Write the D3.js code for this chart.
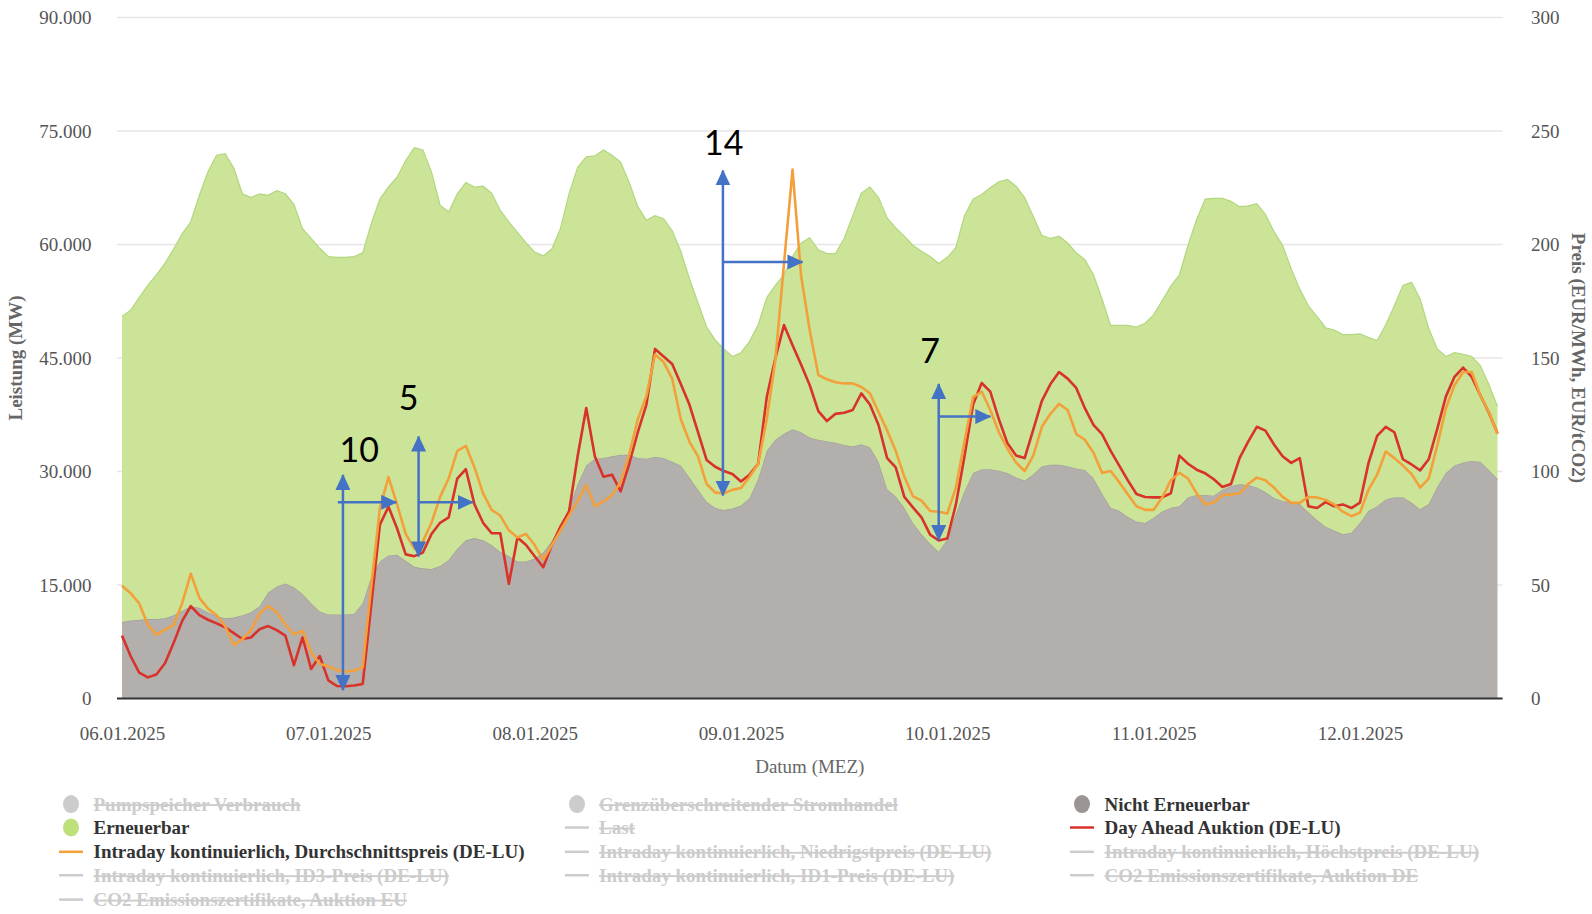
<!DOCTYPE html>
<html>
<head>
<meta charset="utf-8">
<script src="https://cdn.jsdelivr.net/npm/d3@7"></script>
<style>
  body { margin: 0; background: #fff; }
  svg text { font-family: "Liberation Serif", "Times New Roman", serif; }
</style>
</head>
<body>
<svg id="chart" width="1592" height="914"></svg>
<script>
// hourly values from 06.01.2025 00:00 to 12.01.2025 16:00 (161 points)
// Nicht Erneuerbar (MW, in thousands)
var nichtErneuerbar = [
  10.1,10.3,10.4,10.5,10.5,10.6,11.0,11.6,12.2,12.0,11.4,10.9,10.6,10.7,11.0,11.4,12.2,14.0,14.8,15.2,14.7,13.8,12.6,11.5,
  11.1,11.1,11.1,11.2,12.6,16.1,18.1,18.9,19.0,18.2,17.4,17.2,17.1,17.5,18.3,19.8,20.9,21.2,20.9,20.3,19.4,18.8,18.1,18.1,
  18.5,19.3,20.8,22.8,25.2,28.3,30.8,31.7,31.8,32.0,32.2,32.2,31.8,31.7,31.9,31.8,31.3,30.8,29.2,27.6,26.0,25.2,24.9,25.1,
  25.5,26.5,29.0,32.7,34.2,35.0,35.6,35.2,34.5,34.2,34.0,33.8,33.5,33.3,33.6,33.2,31.3,27.7,26.7,25.2,23.2,21.7,20.5,19.4,
  21.0,24.4,27.4,29.8,30.3,30.3,30.1,29.8,29.2,28.8,29.6,30.7,30.9,30.9,30.7,30.4,30.2,29.1,27.1,25.2,24.8,24.0,23.4,23.2,
  23.9,24.7,25.2,25.4,26.6,26.9,26.9,26.8,27.6,28.1,28.3,28.2,27.9,27.3,26.5,26.1,25.9,25.7,24.6,23.6,22.7,22.2,21.7,21.9,
  23.2,24.8,25.4,26.3,26.6,26.6,25.9,25.0,25.7,28.0,29.8,30.8,31.2,31.4,31.3,30.2,29.0
];
// Erneuerbar (MW, in thousands)
var erneuerbar = [
  40.4,41.0,42.6,44.1,45.5,46.9,48.4,49.8,50.8,54.5,58.2,60.9,61.4,59.4,55.7,54.8,54.5,52.5,52.3,51.5,50.6,48.3,48.2,48.0,
  47.3,47.2,47.2,47.2,46.3,46.7,47.9,48.7,49.9,52.9,55.4,55.3,52.5,47.7,46.0,46.9,47.3,46.4,46.8,46.5,45.1,44.2,43.5,42.1,
  40.5,39.2,38.6,39.3,41.5,41.9,40.8,40.0,40.7,39.8,38.7,36.0,33.2,31.5,31.9,31.6,30.5,28.3,26.3,24.7,23.1,22.2,21.3,20.1,
  20.2,20.7,20.4,20.3,20.4,21.0,22.8,25.0,26.4,25.1,24.8,25.0,27.3,30.5,33.2,34.4,34.9,35.8,35.5,35.9,36.7,37.4,37.9,38.1,
  37.3,35.2,36.4,36.2,36.3,37.2,38.2,38.8,38.5,37.4,34.1,30.5,29.9,30.2,29.5,28.5,27.8,26.9,25.7,24.1,24.5,25.3,25.7,26.4,
  26.8,27.9,29.3,30.6,33.3,36.4,39.1,39.3,38.5,37.6,36.7,36.9,37.5,36.7,35.2,33.8,30.9,28.4,27.3,26.9,26.3,26.5,26.4,26.2,
  25.0,22.9,21.9,23.1,25.3,28.0,29.1,27.8,23.2,18.2,15.4,14.9,14.3,13.8,12.7,11.3,9.6
];
// Day Ahead Auktion (DE-LU), EUR/MWh
var dayAhead = [
  27.7,18.7,11.4,9.3,10.6,15.5,24.4,34.2,40.7,36.7,34.7,33.1,31.4,28.8,26.2,26.9,30.5,31.9,30.1,27.7,14.7,26.9,13.0,18.7,
  8.0,5.5,5.4,5.7,6.4,41.5,76.6,84.5,74.9,63.5,62.7,64.3,72.5,77.4,79.8,96.9,101.0,85.5,77.4,72.8,72.8,50.5,70.9,67.6,
  62.7,57.8,67.6,75.7,82.3,106.7,128.0,106.7,97.7,98.6,91.2,103.4,117.3,129.5,154.0,150.7,147.4,138.5,129.5,117.3,105.1,102.1,100.2,98.9,
  95.6,98.6,103.4,132.8,149.9,164.5,155.6,147.0,138.0,126.6,122.2,125.4,125.9,127.1,134.4,129.5,120.5,105.9,101.8,88.8,84.2,79.8,72.2,69.6,
  70.5,85.5,106.7,129.5,139.0,135.2,123.0,112.4,107.0,105.9,118.5,131.1,138.5,143.8,140.9,136.8,127.9,120.5,116.5,109.1,102.6,96.1,90.1,88.8,
  88.6,88.6,90.4,107.0,103.4,100.8,99.2,96.6,93.2,94.5,105.9,113.2,119.7,118.0,111.9,106.7,103.8,105.9,84.7,83.9,86.5,84.7,85.5,83.9,
  86.3,103.8,115.7,119.7,117.3,105.4,103.1,100.5,105.4,118.9,133.1,141.7,145.8,141.7,133.6,125.9,116.8
];
// Intraday kontinuierlich, Durchschnittspreis (DE-LU), EUR/MWh
var intraday = [
  49.7,46.4,41.9,32.6,28.0,30.3,32.3,42.0,55.0,44.3,39.6,36.7,31.8,23.6,26.1,30.1,37.5,40.7,38.0,32.6,28.2,29.8,20.4,15.2,
  14.2,12.5,11.9,12.2,13.8,49.7,83.9,97.5,85.5,72.5,66.0,69.2,77.4,88.8,96.9,109.1,111.3,101.8,90.4,83.1,80.6,74.1,70.9,72.5,
  67.6,61.1,67.6,74.1,80.6,87.2,94.0,84.7,86.8,89.6,95.3,107.5,123.0,133.2,151.5,148.2,140.9,123.0,113.2,106.7,94.5,90.7,90.4,91.9,
  92.7,97.7,103.4,123.0,149.1,191.4,233.0,186.0,162.1,142.5,140.6,139.3,138.8,138.8,137.2,134.4,126.2,118.1,109.1,97.7,89.1,87.2,82.6,82.3,
  81.5,92.9,113.2,132.8,135.2,127.1,117.3,110.0,103.9,100.2,107.0,119.7,125.4,129.8,127.1,116.5,114.0,108.3,99.4,100.2,95.3,89.9,84.7,83.1,
  83.1,88.5,96.1,99.4,96.9,90.4,85.5,86.3,89.6,89.8,90.4,94.5,97.3,96.1,92.9,88.8,86.2,86.2,88.8,88.6,87.5,85.5,82.3,80.3,
  81.9,92.0,98.6,108.8,105.9,102.6,98.9,92.9,96.9,111.6,127.9,138.0,143.8,143.8,133.6,126.2,116.5
];

var leftTicks = [0, 15000, 30000, 45000, 60000, 75000, 90000];
var rightTicks = [0, 50, 100, 150, 200, 250, 300];

// annotations: hours since start, prices on the right axis
var annoLabels = ["10", "5", "14", "7"];
var annoHour   = [25.7, 34.5, 69.9, 95.0];
var annoTop    = [98.5, 115.4, 232.6, 138.5];
var annoBottom = [3.7, 62.6, 89.4, 69.8];
var annoArrowY = [86.4, 86.4, 192.3, 124.2];
var annoArrowFrom = [25.1, 34.5, 69.9, 95.0];
var annoArrowTo   = [31.9, 40.8, 79.15, 101.0];
var annoTextHour  = [27.6, 33.35, 70.0, 94.0];
var annoTextPrice = [104.3, 127.1, 239.3, 148.0];

var legendNames = [
  "Pumpspeicher Verbrauch", "Grenzüberschreitender Stromhandel", "Nicht Erneuerbar",
  "Erneuerbar", "Last", "Day Ahead Auktion (DE-LU)",
  "Intraday kontinuierlich, Durchschnittspreis (DE-LU)", "Intraday kontinuierlich, Niedrigstpreis (DE-LU)", "Intraday kontinuierlich, Höchstpreis (DE-LU)",
  "Intraday kontinuierlich, ID3-Preis (DE-LU)", "Intraday kontinuierlich, ID1-Preis (DE-LU)", "CO2 Emissionszertifikate, Auktion DE",
  "CO2 Emissionszertifikate, Auktion EU"
];
var legendType = ["dot","dot","dot","dot","line","line","line","line","line","line","line","line","line"];
var legendColor = ["#cccccc","#cccccc","#9a9592","#bde07a","#cccccc","#d8322a","#f4a03a","#cccccc","#cccccc","#cccccc","#cccccc","#cccccc","#cccccc"];
var legendActive = [false,false,true,true,false,true,true,false,false,false,false,false,false];

var svg = d3.select("#chart");

var start = new Date(2025, 0, 6, 0);
var end = new Date(2025, 0, 12, 16);
var times = d3.timeHour.range(start, new Date(2025, 0, 12, 17));
function hourDate(h) { return new Date(start.getTime() + h * 3600000); }

var plotTop = 17.5, plotBottom = 698.5, gridL = 117, gridR = 1502.6;

var x = d3.scaleTime().domain([start, end]).range([122, 1497.5]);
var yL = d3.scaleLinear().domain([0, 90000]).range([plotBottom, plotTop]);
var yR = d3.scaleLinear().domain([0, 300]).range([plotBottom, plotTop]);

var de = d3.formatLocale({decimal: ",", thousands: ".", grouping: [3], currency: ["", " €"]});

// grid
svg.append("g").selectAll("line")
  .data(leftTicks.slice(1))
  .enter().append("line")
    .attr("x1", gridL).attr("x2", gridR)
    .attr("y1", function(d){ return yL(d) }).attr("y2", function(d){ return yL(d) })
    .style("stroke", "#e6e6e6").style("stroke-width", 1.5)

// stacked areas
var rows = times.map(function(t, i){ return {t: t, nicht: nichtErneuerbar[i] * 1000, ern: erneuerbar[i] * 1000} });
var stacked = d3.stack().keys(["nicht", "ern"])(rows);
var area = d3.area()
  .x(function(d){ return x(d.data.t) })
  .y0(function(d){ return yL(d[0]) })
  .y1(function(d){ return yL(d[1]) });
var edge = d3.line()
  .x(function(d){ return x(d.data.t) })
  .y(function(d){ return yL(d[1]) });
var fills = ["#b3afad", "#cbe498"], edges = ["#a19d9a", "#b2d77f"];
stacked.forEach(function(s, k){
  svg.append("path").datum(s).attr("d", area).style("fill", fills[k]);
  svg.append("path").datum(s).attr("d", edge).style("fill", "none")
    .style("stroke", edges[k]).style("stroke-width", 1.2);
});

// price lines
var line = d3.line()
  .x(function(d, i){ return x(times[i]) })
  .y(function(d){ return yR(d) });
svg.append("path").datum(dayAhead).attr("d", line)
  .style("fill", "none").style("stroke", "#d8322a").style("stroke-width", 2.6).style("stroke-linejoin", "round");
svg.append("path").datum(intraday).attr("d", line)
  .style("fill", "none").style("stroke", "#f4a03a").style("stroke-width", 2.6).style("stroke-linejoin", "round");

// x axis
svg.append("line").attr("x1", gridL).attr("x2", gridR).attr("y1", plotBottom).attr("y2", plotBottom)
  .style("stroke", "#333").style("stroke-width", 2);
var xAxis = svg.append("g").attr("transform", "translate(0," + plotBottom + ")")
  .call(d3.axisBottom(x).tickValues(d3.timeDay.range(start, new Date(2025, 0, 13))).tickSize(0)
    .tickFormat(d3.timeFormat("%d.%m.%Y")));
xAxis.select(".domain").remove();
xAxis.selectAll("text").attr("y", 41).attr("dy", 0)
  .style("font-family", "Liberation Serif").style("font-size", "19px").style("fill", "#555");

// left axis
var lAxis = svg.append("g").attr("transform", "translate(" + gridL + ",0)")
  .call(d3.axisLeft(yL).tickValues(leftTicks).tickSize(0).tickPadding(25.6).tickFormat(de.format(",")));
lAxis.select(".domain").remove();
lAxis.selectAll("text").style("font-family", "Liberation Serif").style("font-size", "19px").style("fill", "#555");

// right axis
var rAxis = svg.append("g").attr("transform", "translate(" + gridR + ",0)")
  .call(d3.axisRight(yR).tickValues(rightTicks).tickSize(0).tickPadding(28.4));
rAxis.select(".domain").remove();
rAxis.selectAll("text").style("font-family", "Liberation Serif").style("font-size", "19px").style("fill", "#555");

// axis titles
svg.append("text").attr("transform", "translate(15.5,358) rotate(-90)")
  .attr("text-anchor", "middle").attr("dy", "0.35em")
  .style("font-size", "19px").style("font-weight", "bold").style("fill", "#666")
  .text("Leistung (MW)");
svg.append("text").attr("transform", "translate(1579,358) rotate(90)")
  .attr("text-anchor", "middle").attr("dy", "0.35em")
  .style("font-size", "19px").style("font-weight", "bold").style("fill", "#666")
  .text("Preis (EUR/MWh, EUR/tCO2)");
svg.append("text").attr("x", (gridL + gridR) / 2).attr("y", 772.5)
  .attr("text-anchor", "middle")
  .style("font-size", "19px").style("fill", "#666")
  .text("Datum (MEZ)");

// annotations
var blue = "#4472c4";
var defs = svg.append("defs");
defs.append("marker").attr("id", "head")
  .attr("markerUnits", "userSpaceOnUse").attr("viewBox", "0 0 16 15")
  .attr("markerWidth", 16).attr("markerHeight", 15)
  .attr("refX", 15).attr("refY", 7.5).attr("orient", "auto-start-reverse")
  .append("path").attr("d", "M0,0 L16,7.5 L0,15 Z").style("fill", blue);

annoLabels.forEach(function(lab, i){
  var g = svg.append("g");
  g.append("line")
    .attr("x1", x(hourDate(annoHour[i]))).attr("x2", x(hourDate(annoHour[i])))
    .attr("y1", yR(annoTop[i])).attr("y2", yR(annoBottom[i]))
    .attr("marker-start", "url(#head)").attr("marker-end", "url(#head)")
    .style("stroke", blue).style("stroke-width", 2.5);
  g.append("line")
    .attr("x1", x(hourDate(annoArrowFrom[i]))).attr("x2", x(hourDate(annoArrowTo[i])))
    .attr("y1", yR(annoArrowY[i])).attr("y2", yR(annoArrowY[i]))
    .attr("marker-end", "url(#head)")
    .style("stroke", blue).style("stroke-width", 2.5);
  g.append("text")
    .attr("x", x(hourDate(annoTextHour[i]))).attr("y", yR(annoTextPrice[i]))
    .attr("text-anchor", "middle")
    .style("font-family", "Lato, 'Open Sans', sans-serif").style("font-size", "34px").style("fill", "#000")
    .text(lab);
});

// legend
var colText = [93.5, 599, 1104.6], colMark = [71, 577, 1082];
var rowY = [804.1, 827.5, 851.8, 875.2, 899.6];
var legend = svg.append("g");
legendNames.forEach(function(name, i){
  var c = i % 3, r = Math.floor(i / 3);
  var cy = rowY[r];
  if (legendType[i] == "dot") {
    legend.append("ellipse").attr("cx", colMark[c]).attr("cy", cy).attr("rx", 8).attr("ry", 9)
      .style("fill", legendColor[i]);
  } else {
    legend.append("line").attr("x1", colMark[c] - 12).attr("x2", colMark[c] + 12)
      .attr("y1", cy).attr("y2", cy)
      .style("stroke", legendColor[i]).style("stroke-width", 2.5);
  }
  legend.append("text").attr("x", colText[c]).attr("y", cy).attr("dy", "0.35em")
    .style("font-size", "19px").style("font-weight", "bold")
    .style("fill", legendActive[i] ? "#333" : "#cccccc")
    .style("text-decoration", legendActive[i] ? "none" : "line-through")
    .text(name);
});
</script>
</body>
</html>
